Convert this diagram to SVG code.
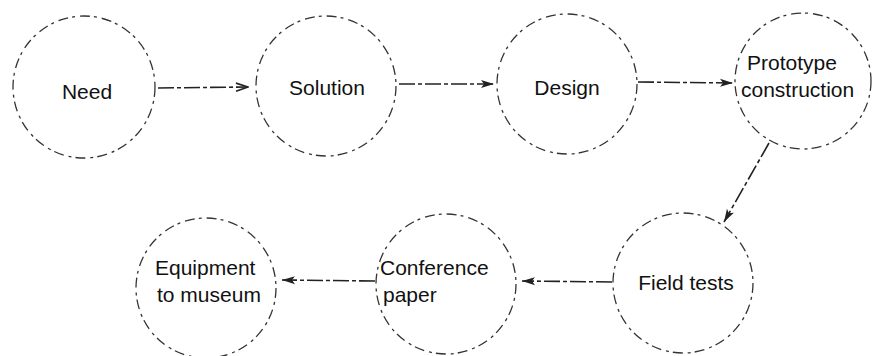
<svg xmlns="http://www.w3.org/2000/svg" width="874" height="356" viewBox="0 0 874 356">
<style>
.node{fill:none;stroke:#333;stroke-width:1.3;stroke-dasharray:10 4 3 5}
.lbl{font-family:"Liberation Sans",Arial,sans-serif;font-size:21px;fill:#111}
.c{text-anchor:middle}
.edge{stroke:#222;stroke-width:1.6;fill:none;stroke-dasharray:16 3 4 3}
</style>
<defs>
<marker id="open" markerWidth="14" markerHeight="10" refX="13" refY="5" orient="auto" markerUnits="userSpaceOnUse">
<path d="M1,1 L13,5 L1,9" fill="none" stroke="#222" stroke-width="1.6"/>
</marker>
<marker id="solid" markerWidth="14" markerHeight="10" refX="13" refY="5" orient="auto" markerUnits="userSpaceOnUse">
<path d="M0,1 L13,5 L0,9 L3,5 Z" fill="#222"/>
</marker>
</defs>
<rect width="874" height="356" fill="#fff"/>
<g id="connectors">
<line class="edge" x1="158" y1="88" x2="248" y2="87" marker-end="url(#open)"/>
<line class="edge" x1="399" y1="84" x2="494" y2="84" marker-end="url(#solid)"/>
<line class="edge" x1="638" y1="82" x2="733" y2="83" marker-end="url(#solid)"/>
<line class="edge" x1="769" y1="143" x2="724" y2="222" marker-end="url(#solid)"/>
<line class="edge" x1="612" y1="282" x2="522" y2="281" marker-end="url(#solid)"/>
<line class="edge" x1="375" y1="281" x2="282" y2="280" marker-end="url(#solid)"/>
</g>
<g id="need"><circle class="node" cx="84" cy="87" r="71"/><text class="lbl c" x="87" y="99">Need</text></g>
<g id="solution"><circle class="node" cx="326" cy="86" r="70"/><text class="lbl c" x="327" y="95">Solution</text></g>
<g id="design"><circle class="node" cx="567" cy="84" r="70"/><text class="lbl c" x="567" y="95">Design</text></g>
<g id="prototype"><circle class="node" cx="803" cy="81" r="68"/><text class="lbl" x="747" y="70">Prototype</text><text class="lbl" x="741" y="97">construction</text></g>
<g id="fieldtests"><circle class="node" cx="683" cy="283" r="70"/><text class="lbl c" x="686" y="290">Field tests</text></g>
<g id="conference"><circle class="node" cx="446" cy="284" r="70"/><text class="lbl" x="380" y="275">Conference</text><text class="lbl" x="383" y="302">paper</text></g>
<g id="museum"><circle class="node" cx="206" cy="288" r="70"/><text class="lbl" x="155" y="275">Equipment</text><text class="lbl" x="157" y="302">to museum</text></g>
</svg>
